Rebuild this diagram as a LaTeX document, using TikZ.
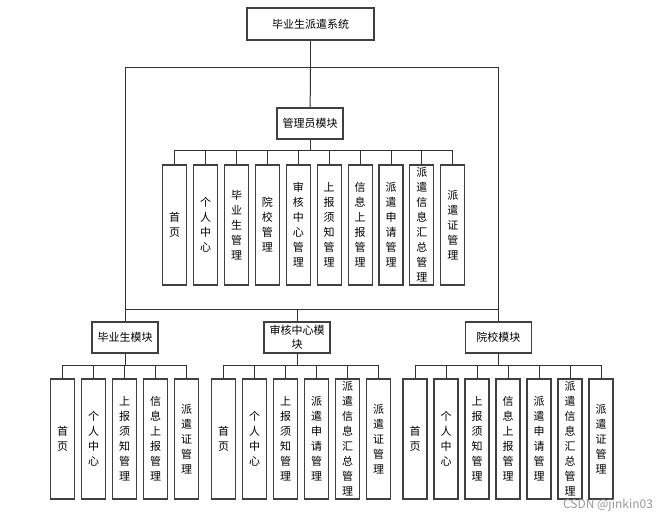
\documentclass[tikz,border=0pt]{standalone}
\usepackage{fontspec}
\setmainfont{Noto Sans CJK SC}
\usepackage{tikz}
\usetikzlibrary{positioning,calc}

\tikzset{
  modbox/.style={draw=black!75, line width=1.1pt, fill=white, minimum width=66pt,
    minimum height=31pt, inner sep=1pt, align=center, font=\fontsize{11}{14}\selectfont},
  leafbox/.style={draw=black!75, line width=1.1pt, fill=white, minimum width=24pt,
    minimum height=120pt, inner sep=0pt, align=center, font=\fontsize{11}{15}\selectfont},
  link/.style={draw=black!80, line width=1pt}
}

\begin{document}
\begin{tikzpicture}[x=1pt, y=-1pt]
  \useasboundingbox (0,0) rectangle (671,514);

  % Define nodes

  \node[modbox, minimum width=127pt, minimum height=32pt] (sys) at (310.5,24) {毕业生派遣系统};
  \node[modbox] (adm) at (310,123.5) {管理员模块};
  \node[modbox] (stu) at (125,337.5) {毕业生模块};
  \node[modbox] (aud) at (297,337.5) {审核中心模\\块};
  \node[modbox] (col) at (498.3,337.5) {院校模块};

  % admin leaves
  \node[leafbox] (a1) at (174.7,225) {首\\页};
  \node[leafbox] (a2) at (205.6,225) {个\\人\\中\\心};
  \node[leafbox] (a3) at (236.5,225) {毕\\业\\生\\管\\理};
  \node[leafbox] (a4) at (267.4,225) {院\\校\\管\\理};
  \node[leafbox] (a5) at (298.3,225) {审\\核\\中\\心\\管\\理};
  \node[leafbox] (a6) at (329.2,225) {上\\报\\须\\知\\管\\理};
  \node[leafbox] (a7) at (360.1,225) {信\\息\\上\\报\\管\\理};
  \node[leafbox] (a8) at (391,225) {派\\遣\\申\\请\\管\\理};
  \node[leafbox] (a9) at (421.9,225) {派\\遣\\信\\息\\汇\\总\\管\\理};
  \node[leafbox] (a10) at (452.8,225) {派\\遣\\证\\管\\理};

  % graduate leaves
  \node[leafbox] (s1) at (62.5,439) {首\\页};
  \node[leafbox] (s2) at (93.5,439) {个\\人\\中\\心};
  \node[leafbox] (s3) at (124.5,439) {上\\报\\须\\知\\管\\理};
  \node[leafbox] (s4) at (155.5,439) {信\\息\\上\\报\\管\\理};
  \node[leafbox] (s5) at (186.5,439) {派\\遣\\证\\管\\理};

  % audit centre leaves
  \node[leafbox] (c1) at (223.5,439) {首\\页};
  \node[leafbox] (c2) at (254.5,439) {个\\人\\中\\心};
  \node[leafbox] (c3) at (285.5,439) {上\\报\\须\\知\\管\\理};
  \node[leafbox] (c4) at (316.5,439) {派\\遣\\申\\请\\管\\理};
  \node[leafbox] (c5) at (347.5,439) {派\\遣\\信\\息\\汇\\总\\管\\理};
  \node[leafbox] (c6) at (378.5,439) {派\\遣\\证\\管\\理};

  % college leaves
  \node[leafbox] (u1) at (415,439) {首\\页};
  \node[leafbox] (u2) at (446,439) {个\\人\\中\\心};
  \node[leafbox] (u3) at (477,439) {上\\报\\须\\知\\管\\理};
  \node[leafbox] (u4) at (508,439) {信\\息\\上\\报\\管\\理};
  \node[leafbox] (u5) at (539,439) {派\\遣\\申\\请\\管\\理};
  \node[leafbox] (u6) at (570,439) {派\\遣\\信\\息\\汇\\总\\管\\理};
  \node[leafbox] (u7) at (601,439) {派\\遣\\证\\管\\理};

  \node[text=black!40, font=\fontsize{12}{13}\selectfont, inner sep=0pt] (wm) at (608,505) {CSDN @jinkin03};

  % Draw connectors
  \coordinate (topL) at (125,67);
  \coordinate (topR) at (498.3,67);
  \coordinate (midL) at (125,309);
  \coordinate (midR) at (498.3,309);
  \coordinate (admbus) at (310,150);
  \coordinate (stubus) at (125,365);
  \coordinate (audbus) at (297,365);
  \coordinate (colbus) at (498.3,365);

  \draw[link] (sys) -- (sys |- topL);
  \draw[link] (topL) -- (topR);
  \draw[link] (sys |- topL) -- (adm);
  \draw[link] (topL) -- (stu);
  \draw[link] (topR) -- (col);
  \draw[link] (midL) -- (midR);
  \draw[link] (aud |- midL) -- (aud);

  \draw[link] (adm) -- (admbus);
  \draw[link] (a1 |- admbus) -- (a10 |- admbus);
  \draw[link] (a1 |- admbus) -- (a1);
  \draw[link] (a2 |- admbus) -- (a2);
  \draw[link] (a3 |- admbus) -- (a3);
  \draw[link] (a4 |- admbus) -- (a4);
  \draw[link] (a5 |- admbus) -- (a5);
  \draw[link] (a6 |- admbus) -- (a6);
  \draw[link] (a7 |- admbus) -- (a7);
  \draw[link] (a8 |- admbus) -- (a8);
  \draw[link] (a9 |- admbus) -- (a9);
  \draw[link] (a10 |- admbus) -- (a10);

  \draw[link] (stu) -- (stubus);
  \draw[link] (s1 |- stubus) -- (s5 |- stubus);
  \draw[link] (s1 |- stubus) -- (s1);
  \draw[link] (s2 |- stubus) -- (s2);
  \draw[link] (s3 |- stubus) -- (s3);
  \draw[link] (s4 |- stubus) -- (s4);
  \draw[link] (s5 |- stubus) -- (s5);

  \draw[link] (aud) -- (audbus);
  \draw[link] (c1 |- audbus) -- (c6 |- audbus);
  \draw[link] (c1 |- audbus) -- (c1);
  \draw[link] (c2 |- audbus) -- (c2);
  \draw[link] (c3 |- audbus) -- (c3);
  \draw[link] (c4 |- audbus) -- (c4);
  \draw[link] (c5 |- audbus) -- (c5);
  \draw[link] (c6 |- audbus) -- (c6);

  \draw[link] (col) -- (colbus);
  \draw[link] (u1 |- colbus) -- (u7 |- colbus);
  \draw[link] (u1 |- colbus) -- (u1);
  \draw[link] (u2 |- colbus) -- (u2);
  \draw[link] (u3 |- colbus) -- (u3);
  \draw[link] (u4 |- colbus) -- (u4);
  \draw[link] (u5 |- colbus) -- (u5);
  \draw[link] (u6 |- colbus) -- (u6);
  \draw[link] (u7 |- colbus) -- (u7);
\end{tikzpicture}
\end{document}
